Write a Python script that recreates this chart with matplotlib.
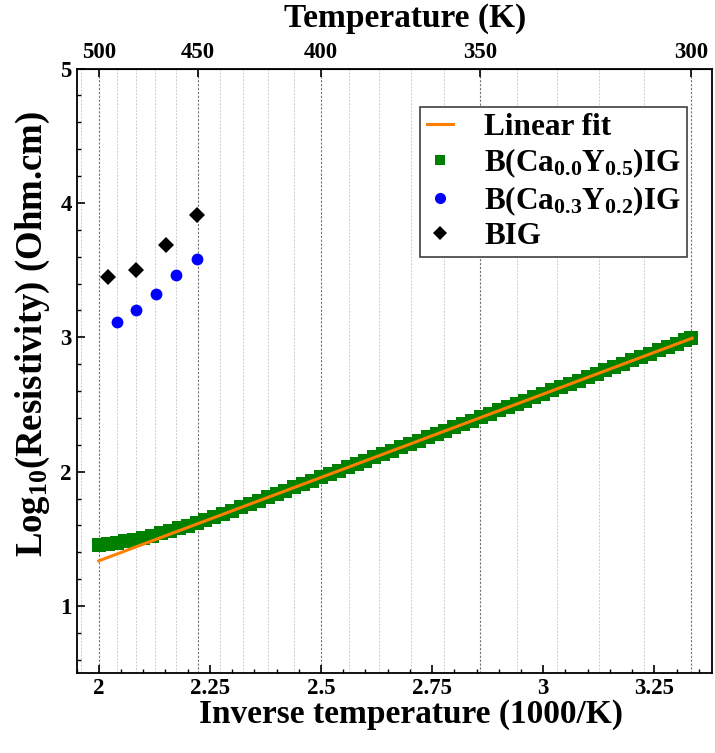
"""Log10 resistivity vs inverse temperature for garnet samples."""

import matplotlib.pyplot as plt
import numpy as np
from matplotlib.ticker import MultipleLocator

plt.rcParams["font.family"] = ["Liberation Serif", "DejaVu Serif"]
plt.rcParams["font.weight"] = "bold"
plt.rcParams["axes.labelweight"] = "bold"
plt.rcParams["mathtext.fontset"] = "custom"
plt.rcParams["mathtext.rm"] = "Liberation Serif:bold"
plt.rcParams["mathtext.it"] = "Liberation Serif:bold"
plt.rcParams["mathtext.bf"] = "Liberation Serif:bold"

# B(Ca0.0Y0.5)IG, dense measurement (1000/T, log10 rho)
inv_t_ca00 = [2.00, 2.02, 2.04, 2.06, 2.08, 2.10, 2.12, 2.14, 2.16, 2.18,
              2.20, 2.22, 2.24, 2.26, 2.28, 2.30, 2.32, 2.34, 2.36, 2.38,
              2.40, 2.42, 2.44, 2.46, 2.48, 2.50, 2.52, 2.54, 2.56, 2.58,
              2.60, 2.62, 2.64, 2.66, 2.68, 2.70, 2.72, 2.74, 2.76, 2.78,
              2.80, 2.82, 2.84, 2.86, 2.88, 2.90, 2.92, 2.94, 2.96, 2.98,
              3.00, 3.02, 3.04, 3.06, 3.08, 3.10, 3.12, 3.14, 3.16, 3.18,
              3.20, 3.22, 3.24, 3.26, 3.28, 3.30, 3.32, 3.333]
logr_ca00 = [1.455, 1.462, 1.471, 1.482, 1.494, 1.508, 1.523, 1.540, 1.558, 1.577,
             1.597, 1.617, 1.639, 1.662, 1.686, 1.710, 1.734, 1.759, 1.783, 1.808,
             1.833, 1.858, 1.883, 1.908, 1.933, 1.958, 1.982, 2.007, 2.032, 2.057,
             2.082, 2.107, 2.132, 2.156, 2.181, 2.206, 2.231, 2.256, 2.281, 2.306,
             2.330, 2.355, 2.380, 2.405, 2.430, 2.455, 2.480, 2.504, 2.529, 2.554,
             2.579, 2.604, 2.629, 2.654, 2.678, 2.703, 2.728, 2.753, 2.778, 2.803,
             2.828, 2.852, 2.877, 2.902, 2.927, 2.952, 2.977, 2.993]

# linear fit end points
fit_x = [2.00, 3.335]
fit_y = [1.336, 2.993]

# B(Ca0.3Y0.2)IG
inv_t_ca03 = [2.040, 2.083, 2.128, 2.174, 2.222]
logr_ca03 = [3.11, 3.20, 3.32, 3.46, 3.58]

# BIG
inv_t_big = [2.020, 2.083, 2.151, 2.222]
logr_big = [3.45, 3.50, 3.69, 3.91]

top_temps = [500, 450, 400, 350, 300]

fig = plt.figure(figsize=(7.15, 7.53), dpi=100)
ax = fig.add_axes([0.107, 0.106, 0.889, 0.803])

# vertical grid at every 10 K, darker every 50 K
for t in range(260, 530, 10):
    if t % 50 == 0:
        ax.axvline(1000 / t, color="0.45", ls=(0, (2, 1.5)), lw=0.8, zorder=0)
    else:
        ax.axvline(1000 / t, color="0.8", ls=(0, (2, 1.5)), lw=0.7, zorder=0)

ax.plot(inv_t_ca00, logr_ca00, "s", color="#008000", ms=10, mew=0,
        label=r"B(Ca$_{0.0}$Y$_{0.5}$)IG", zorder=2)
ax.plot(fit_x, fit_y, "-", color="#ff8000", lw=2.2, label="Linear fit", zorder=3)
ax.plot(inv_t_ca03, logr_ca03, "o", color="#0000ff", ms=8.5, mew=0,
        label=r"B(Ca$_{0.3}$Y$_{0.2}$)IG", zorder=3)
ax.plot(inv_t_big, logr_big, "D", color="black", ms=8.5, mew=0,
        label="BIG", zorder=3)

ax.set_xlim(1.95, 3.38)
ax.set_ylim(0.5, 5)
ax.xaxis.set_major_locator(MultipleLocator(0.25))
ax.xaxis.set_minor_locator(MultipleLocator(0.05))
ax.yaxis.set_major_locator(MultipleLocator(1))
ax.yaxis.set_minor_locator(MultipleLocator(0.2))
ax.set_xticks([2, 2.25, 2.5, 2.75, 3, 3.25])
ax.set_xticklabels(["2", "2.25", "2.5", "2.75", "3", "3.25"])
ax.tick_params(which="both", direction="in", top=False, right=False,
               labelsize=16.5)
ax.tick_params(which="major", length=6, width=1.2)
ax.tick_params(which="minor", length=3, width=1.0)
for sp in ax.spines.values():
    sp.set_linewidth(1.3)

ax.set_xlabel("Inverse temperature (1000/K)", fontsize=24, labelpad=0)
ax.xaxis.label.set_x(0.527)
ax.set_ylabel(r"Log$_{10}$(Resistivity) (Ohm.cm)", fontsize=26.5, labelpad=6)
ax.yaxis.label.set_y(0.56)

top = ax.secondary_xaxis("top", functions=(lambda x: 1000 / np.asarray(x, float),
                                           lambda t: 1000 / np.asarray(t, float)))
top.set_xticks(top_temps)
top.set_xticklabels([str(t) for t in top_temps])
top.tick_params(direction="in", length=6, width=1.2, labelsize=16.5, pad=4)
top.set_xlabel("Temperature (K)", fontsize=24, labelpad=11)
top.xaxis.label.set_x(0.517)

handles, labels = ax.get_legend_handles_labels()
order = [1, 0, 2, 3]
leg = ax.legend([handles[i] for i in order], [labels[i] for i in order],
                loc="upper right", bbox_to_anchor=(0.961, 0.937),
                borderaxespad=0, fontsize=22.5,
                frameon=True, fancybox=False, edgecolor="0.25", framealpha=1,
                handlelength=0.85, handletextpad=1.0, borderpad=0.2,
                labelspacing=0.14)
leg.get_frame().set_linewidth(1.2)
for h, s in zip(leg.legend_handles[1:], [7.7, 8.0, 7.0]):
    h.set_markersize(s)

fig.savefig("out.png", dpi=100)
plt.close(fig)
